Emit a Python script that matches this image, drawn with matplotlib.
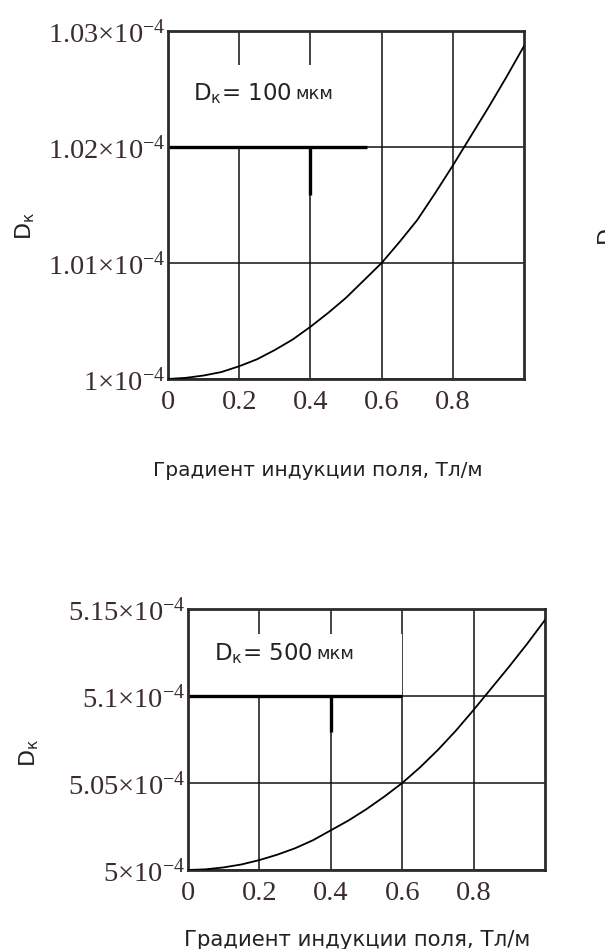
"""Коэффициент диффузии D_к в зависимости от градиента индукции поля.

Две панели: D_к = 100 мкм (сверху) и D_к = 500 мкм (снизу).
"""

import matplotlib
matplotlib.use('Agg')
import matplotlib.pyplot as plt
from matplotlib.patches import Rectangle

plt.rcParams['font.family'] = ['DejaVu Sans']
plt.rcParams['mathtext.fontset'] = 'custom'
plt.rcParams['mathtext.rm'] = 'Liberation Serif'
plt.rcParams['mathtext.it'] = 'Liberation Serif:italic'
plt.rcParams['mathtext.bf'] = 'Liberation Serif:bold'

# ---- данные (значения по оси y в единицах 1e-4) ----
grad = [0.00, 0.05, 0.10, 0.15, 0.20, 0.25, 0.30, 0.35, 0.40, 0.45, 0.50,
        0.55, 0.60, 0.65, 0.70, 0.75, 0.80, 0.85, 0.90, 0.95, 1.00]
d_100 = [1.0000, 1.0001, 1.0003, 1.0006, 1.0011, 1.0017, 1.0025, 1.0034, 1.0045, 1.0057, 1.0070,
         1.0085, 1.0100, 1.0118, 1.0137, 1.0160, 1.0184, 1.0209, 1.0234, 1.0260, 1.0287]
d_500 = [5.0000, 5.0004, 5.0015, 5.0032, 5.0057, 5.0088, 5.0125, 5.0171, 5.0228, 5.0285, 5.0350,
         5.0422, 5.0500, 5.0590, 5.0690, 5.0800, 5.0920, 5.1045, 5.1170, 5.1300, 5.1437]

x_ticks = [0.0, 0.2, 0.4, 0.6, 0.8]
x_ticklabels = ['0', '0.2', '0.4', '0.6', '0.8']

y_ticks_100 = [1.00, 1.01, 1.02, 1.03]
y_mant_100 = ['1', '1.01', '1.02', '1.03']
y_ticks_500 = [5.00, 5.05, 5.10, 5.15]
y_mant_500 = ['5', '5.05', '5.1', '5.15']

label_100 = 'D$_{\\mathregular{к}}$= 100'
label_500 = 'D$_{\\mathregular{к}}$= 500'
unit = 'мкм'
xlabel = 'Градиент индукции поля, Тл/м'
ylabel = 'D$_{\\mathregular{к}}$'

INK = '#111111'
TICK_COLOR = '#3a2a33'
TEXT_COLOR = '#222222'


def sci_labels(mantissas):
    return ['$\\mathrm{' + m + '{\\times}10^{-4}}$' for m in mantissas]


def panel(ax, y, yticks, ymant, box_label, box_right, box_top, stub_bottom,
          xlabel_pos, xlabel_size, ylabel_pos, text_pos):
    ax.set_xlim(0, 1.0)
    ax.set_ylim(yticks[0], yticks[-1])
    ax.set_axisbelow(True)
    ax.grid(True, color=INK, lw=1.1)
    for s in ax.spines.values():
        s.set_color('#2b2b2b')
        s.set_linewidth(2.0)
    ax.set_xticks(x_ticks)
    ax.set_xticklabels(x_ticklabels, fontfamily='Liberation Serif', fontsize=20.5, color=TICK_COLOR)
    ax.set_yticks(yticks)
    ax.set_yticklabels(sci_labels(ymant), fontsize=20.5, color=TICK_COLOR)
    ax.tick_params(axis='x', length=0, pad=8)
    ax.tick_params(axis='y', length=0, pad=2)

    # кривая
    ax.plot(grad, y, color='black', lw=1.3, zorder=3)

    # белая подложка под подписью
    y_grid = yticks[2]
    ax.add_patch(Rectangle((0, y_grid), box_right, box_top - y_grid,
                           facecolor='white', edgecolor='none', zorder=1))
    ax.plot([0, box_right], [y_grid, y_grid], color='black', lw=2.4, zorder=2,
            solid_capstyle='butt')
    ax.plot([x_ticks[2], x_ticks[2]], [y_grid, stub_bottom], color='black', lw=2.4,
            zorder=2, solid_capstyle='butt')

    t = ax.text(text_pos[0], text_pos[1], box_label, transform=ax.transAxes,
                fontsize=16.5, ha='left', va='center', color=TEXT_COLOR, zorder=4)
    ax.annotate(unit, xy=(1, 0), xycoords=t, xytext=(3, 2), textcoords='offset points',
                fontsize=13, ha='left', va='bottom', color=TEXT_COLOR, zorder=4)

    ax.set_xlabel(xlabel, fontsize=xlabel_size, color=TEXT_COLOR)
    ax.xaxis.set_label_coords(*xlabel_pos)
    ax.set_ylabel(ylabel, fontsize=16, color=TEXT_COLOR)
    ax.yaxis.set_label_coords(*ylabel_pos)


fig = plt.figure(figsize=(6.05, 9.49), dpi=100)
W, H = 605, 949

# верхняя панель: пиксели 168..524 по x, 31..379 по y
ax1 = fig.add_axes([168 / W, (H - 379) / H, 356 / W, 348 / H])
panel(ax1, d_100, y_ticks_100, y_mant_100, label_100,
      box_right=0.56, box_top=1.0271, stub_bottom=1.0159,
      xlabel_pos=(0.42, -0.235), xlabel_size=14.5,
      ylabel_pos=(-0.37, 0.44), text_pos=(0.07, 0.82))

# нижняя панель: пиксели 188..545 по x, 609..870 по y
ax2 = fig.add_axes([188 / W, (H - 870) / H, 357 / W, 261 / H])
panel(ax2, d_500, y_ticks_500, y_mant_500, label_500,
      box_right=0.60, box_top=5.1356, stub_bottom=5.0793,
      xlabel_pos=(0.474, -0.23), xlabel_size=15.3,
      ylabel_pos=(-0.415, 0.45), text_pos=(0.073, 0.83))

# обрезанная подпись соседнего графика у правого края
fig.text(596 / W, 1 - 234 / H, 'D', rotation=90, fontsize=16, ha='left', va='center',
         color=TEXT_COLOR)

fig.savefig('out.png', dpi=100)
plt.close(fig)
